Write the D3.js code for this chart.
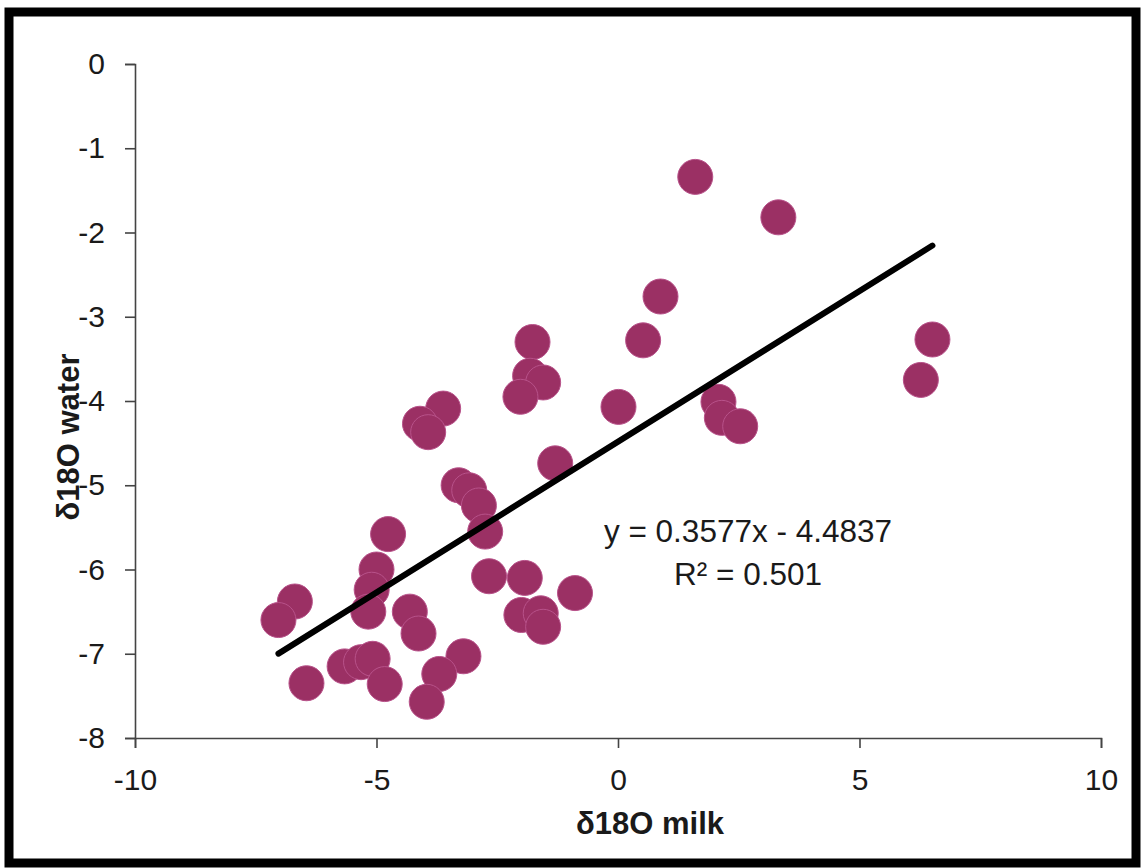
<!DOCTYPE html>
<html>
<head>
<meta charset="utf-8">
<script src="https://cdn.jsdelivr.net/npm/d3@7"></script>
<style>
  body { margin: 0; background: #fff; }
  text { font-family: "Liberation Sans", Arial, sans-serif; }
</style>
</head>
<body>
<svg id="chart" width="1142" height="868"></svg>
<script>
// d18O milk (x) vs d18O water (y)
const milk = [
  1.6, 3.32, 0.88, 0.52, 0.01, 2.08, 2.15, 2.53, 6.51, 6.27,
  -1.3, -1.77, -1.82, -1.55, -2.02, -3.62, -4.1, -3.93, -3.3, -3.08,
  -2.88, -2.75, -4.76, -5.0, -5.1, -5.17, -6.69, -7.03, -4.31, -4.13,
  -2.67, -1.93, -0.89, -2.0, -1.6, -1.55, -6.45, -5.66, -5.32, -5.08,
  -4.83, -3.2, -3.7, -3.96
];
const water = [
  -1.34, -1.82, -2.76, -3.28, -4.07, -4.01, -4.2, -4.3, -3.27, -3.75,
  -4.74, -3.3, -3.7, -3.78, -3.95, -4.09, -4.27, -4.37, -5.0, -5.06,
  -5.24, -5.55, -5.58, -6.0, -6.24, -6.5, -6.38, -6.6, -6.5, -6.76,
  -6.08, -6.1, -6.28, -6.54, -6.52, -6.68, -7.35, -7.15, -7.1, -7.06,
  -7.36, -7.03, -7.24, -7.57
];
const xTicks = [-10, -5, 0, 5, 10];
const yTicks = [0, -1, -2, -3, -4, -5, -6, -7, -8];
const slope = 0.3577;
const intercept = -4.4837;
const eqLines = ['y = 0.3577x - 4.4837', 'R² = 0.501'];

const svg = d3.select('#chart');

// frame around the whole figure
svg.append('rect')
  .attr('x', 9).attr('y', 12)
  .attr('width', 1127).attr('height', 851)
  .attr('fill', 'none')
  .attr('stroke', '#000')
  .attr('stroke-width', 9);

const plotL = 135, plotR = 1101, plotT = 64, plotB = 738;

const x = d3.scaleLinear().domain([-10, 10]).range([plotL, plotR]);
const y = d3.scaleLinear().domain([-8, 0]).range([plotB, plotT]);

const xAxis = svg.append('g')
  .attr('transform', `translate(0,${plotB})`)
  .call(d3.axisBottom(x).tickValues(xTicks).tickSize(10).tickPadding(21).tickFormat(d => String(d)));

const yAxis = svg.append('g')
  .attr('transform', `translate(${plotL},0)`)
  .call(d3.axisLeft(y).tickValues(yTicks).tickSize(10).tickPadding(20).tickFormat(d => String(d)));

[xAxis, yAxis].forEach(g => {
  g.selectAll('path, line').attr('stroke', '#444').attr('stroke-width', 1.6);
  g.selectAll('text')
    .attr('font-family', '"Liberation Sans", Arial, sans-serif')
    .attr('font-size', 30)
    .attr('fill', '#1a1a1a');
});

// data points
const pts = milk.map((m, i) => ({ m, w: water[i] }));
svg.append('g')
  .selectAll('circle')
  .data(pts)
  .enter()
  .append('circle')
  .attr('cx', d => x(d.m))
  .attr('cy', d => y(d.w))
  .attr('r', 17.5)
  .attr('fill', '#9b3064')
  .attr('stroke', '#b8528a')
  .attr('stroke-width', 1);

// linear trendline over the range of the data
const [x0, x1] = d3.extent(milk);
svg.append('line')
  .attr('x1', x(x0)).attr('y1', y(slope * x0 + intercept))
  .attr('x2', x(x1)).attr('y2', y(slope * x1 + intercept))
  .attr('stroke', '#000')
  .attr('stroke-width', 6)
  .attr('stroke-linecap', 'round');

// equation label
svg.append('g')
  .selectAll('text')
  .data(eqLines)
  .enter()
  .append('text')
  .attr('x', 748)
  .attr('y', (d, i) => 542 + i * 43)
  .attr('text-anchor', 'middle')
  .attr('font-size', 31.5)
  .attr('fill', '#1a1a1a')
  .text(d => d);

// axis titles
svg.append('text')
  .attr('x', 650)
  .attr('y', 834)
  .attr('text-anchor', 'middle')
  .attr('font-size', 31)
  .attr('font-weight', 'bold')
  .attr('fill', '#1a1a1a')
  .text('δ18O milk');

svg.append('text')
  .attr('transform', 'translate(79,437) rotate(-90)')
  .attr('text-anchor', 'middle')
  .attr('font-size', 31)
  .attr('font-weight', 'bold')
  .attr('fill', '#1a1a1a')
  .text('δ18O water');
</script>
</body>
</html>
